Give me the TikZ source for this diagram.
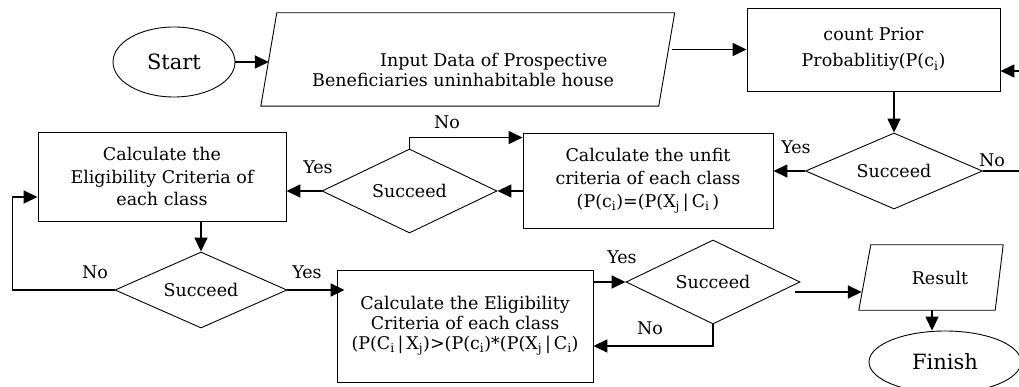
\documentclass[tikz,border=0pt]{standalone}
\usepackage{fontspec}
\setmainfont{DejaVu Serif}
\usetikzlibrary{shapes.geometric,arrows.meta}
\newcommand\fcboxfont{\fontsize{17.5}{20}\selectfont}
\newcommand\fcbigfont{\fontsize{21}{24}\selectfont}
\newcommand\sbs[1]{\textsubscript{#1}}
\begin{document}
\begin{tikzpicture}[x=1pt,y=-1pt,
  outline/.style={draw, line width=0.9pt},
  procbox/.style={outline, rectangle, inner sep=0pt, align=center, font=\fcboxfont},
  decision/.style={outline, diamond, aspect=2.2, inner sep=0pt, font=\fcboxfont},
  terminal/.style={outline, ellipse, inner sep=0pt, font=\fcbigfont},
  iobox/.style={rectangle, inner sep=0pt, font=\fcboxfont},
  txt/.style={inner sep=0pt, align=center, font=\fcboxfont},
  lbl/.style={inner sep=0pt, font=\fcboxfont},
  arr/.style={line width=1.6pt, -{Triangle[length=14pt,width=13pt]}},
  conn/.style={line width=1.6pt}
]
\clip (0,0) rectangle (1019,387);
% nodes
\node[terminal, minimum width=122pt, minimum height=70pt] (start) at (174,62) {Start};
\node[iobox, minimum width=397.5pt, minimum height=93pt] (input) at (467.75,59.5) {};
\draw[outline] ([xshift=8pt]input.north west) -- ([xshift=8pt]input.north east)
  -- ([xshift=-8pt]input.south east) -- ([xshift=-8pt]input.south west) -- cycle;
\node[txt, align=left, anchor=west] (inputtext) at (312,70) {\hspace*{68pt}Input Data of Prospective\\Beneficiaries uninhabitable house};
\node[procbox, minimum width=253pt, minimum height=83pt, font=\fontsize{17.5}{26}\selectfont] (count) at (873.5,49.5) {count Prior\\Probablitiy(P(c\sbs{i})};
\node[decision, minimum width=177pt, minimum height=76pt] (d1) at (894,171) {Succeed};
\node[procbox, minimum width=250pt, minimum height=95pt, font=\fontsize{17.5}{23}\selectfont] (unfit) at (648,180.5) {Calculate the unfit\\criteria of each class\\(P(c\sbs{i})=(P(X\sbs{j}\,|\,C\sbs{i}\,)};
\node[decision, minimum width=175pt, minimum height=84pt] (d2) at (409.5,191) {Succeed};
\node[procbox, minimum width=248pt, minimum height=89pt, font=\fontsize{17.5}{22.5}\selectfont] (elig) at (162,176.5) {Calculate the\\Eligibility Criteria of\\each class};
\node[decision, minimum width=172pt, minimum height=76pt] (d3) at (201,290) {Succeed};
\node[procbox, minimum width=256pt, minimum height=112pt] (bbox) at (465,326) {Calculate the Eligibility\\Criteria of each class\\(P(C\sbs{i}\,|\,X\sbs{j})>(P(c\sbs{i})*(P(X\sbs{j}\,|\,C\sbs{i})};
\node[decision, minimum width=174pt, minimum height=84pt] (d4) at (713,282) {Succeed};
\node[iobox, minimum width=134pt, minimum height=65pt] (result) at (932,277.5) {\hspace*{16pt}Result};
\draw[outline] ([xshift=6pt]result.north west) -- ([xshift=4pt]result.north east)
  -- ([xshift=-4pt]result.south east) -- ([xshift=-6pt]result.south west) -- cycle;
\node[terminal, minimum width=152pt, minimum height=62pt] (finish) at (945,362) {Finish};
\coordinate (rin) at (1019,71);
\coordinate (rout) at (1019,171);
% connectors
\draw[arr] (start.east) -- (start.east -| input.west);
\draw[arr] ([xshift=5pt]input.east |- count.west) -- (count.west);
\draw[arr] (rin) -- (rin -| count.east);
\draw[arr] (d1.north |- count.south) -- (d1.north);
\draw[conn] (d1.east) -- (rout);
\draw[arr] (d1.west) -- (d1.west -| unfit.east);
\draw[arr] (unfit.west |- d2.east) -- (d2.east);
\draw[arr] (d2.north) |- ([yshift=-5pt]unfit.north west);
\draw[arr] (d2.west) -- (d2.west -| elig.east);
\draw[arr] (d3.north |- elig.south) -- (d3.north);
\draw[arr] (d3.west) -- ([xshift=-25pt]elig.west |- d3.west) |- ([yshift=-20.5pt]elig.west);
\draw[arr] (d3.east) -- ([xshift=8pt]d3.east -| bbox.west);
\draw[arr] (bbox.east |- d4.west) -- (d4.west);
\draw[arr] (d4.south) |- ([yshift=-20pt]bbox.east);
\draw[arr] ([xshift=-5pt,yshift=-10pt]d4.east) -- ([yshift=-10pt,xshift=-3pt]d4.east -| result.west);
\draw[arr] (result.south) -- (result.south |- finish.north);
% labels
\node[lbl] (l1) at (992,160) {No};
\node[lbl] (l2) at (796,147) {Yes};
\node[lbl] (l3) at (447,122) {No};
\node[lbl] (l4) at (318,167) {Yes};
\node[lbl] (l5) at (95,272) {No};
\node[lbl] (l6) at (307,272) {Yes};
\node[lbl] (l7) at (622,257) {Yes};
\node[lbl] (l8) at (650,328) {No};
\end{tikzpicture}
\end{document}
